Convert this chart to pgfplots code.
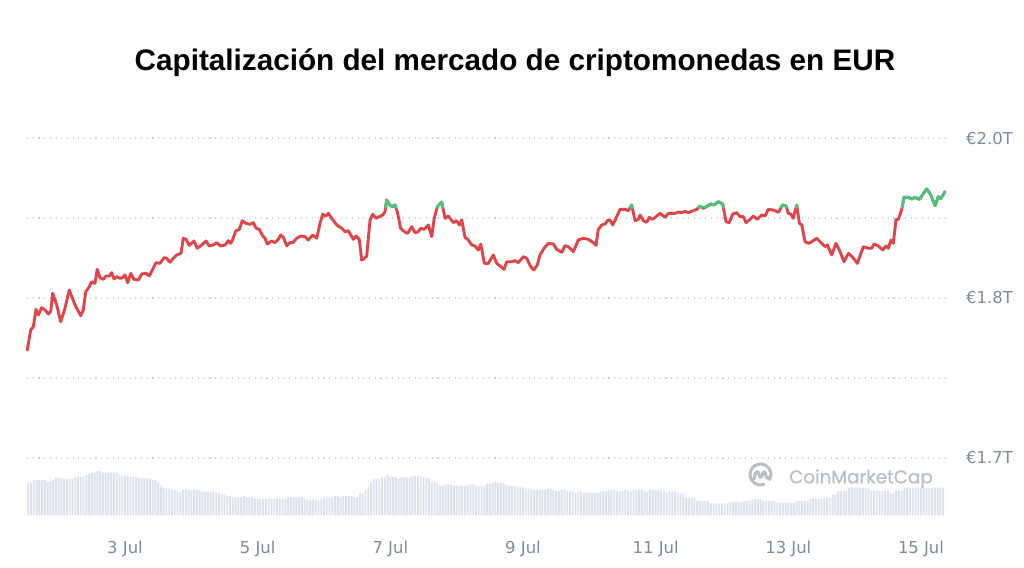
\documentclass[border=0pt]{standalone}
\usepackage{fontspec}
\usepackage{pgfplots}
\usepackage{pgfplotstable}
\pgfplotsset{compat=1.18}
\setmainfont{Liberation Sans}
\newfontfamily\dejavu{DejaVu Sans}
\newfontfamily\popp[FakeBold=0.7]{Poppins}
\definecolor{cmcred}{RGB}{222,68,72}
\definecolor{cmcgreen}{RGB}{76,196,126}
\definecolor{volbar}{RGB}{222,226,238}
\definecolor{lblgray}{RGB}{128,138,157}
\definecolor{gridgray}{RGB}{208,212,220}
\definecolor{wmgray}{RGB}{184,189,198}

% hourly volume (relative units), starting 1 Jul 13:00
\pgfplotstableread[row sep=\\]{
v\\
32.6\\32.6\\35.3\\35.3\\35.3\\35.3\\35.3\\33.6\\33.6\\35.3\\
37.6\\37.6\\36.6\\36.6\\36.6\\36.6\\36.6\\38.3\\38.3\\38.3\\
38.3\\40.3\\41.5\\42.6\\42.6\\44.3\\44.3\\42.6\\42.6\\42.6\\
42.6\\42.6\\42.6\\40.3\\39.3\\39.3\\39.3\\38.3\\38.3\\38.3\\
37\\37\\37\\37\\37\\35.3\\35.3\\32.6\\30\\27.6\\
26.6\\26.6\\25.3\\25.3\\23.6\\23.6\\25.3\\25.3\\25.3\\25.3\\
25.3\\25.3\\25.3\\23.6\\23.6\\23.6\\23.6\\23.6\\22.3\\22.3\\
21\\21\\19.3\\19.3\\18\\18\\18\\18\\19.3\\18\\
18\\18\\16.6\\16.6\\16.6\\16.6\\16.6\\16.6\\16.6\\16.6\\
16.6\\16.6\\16.6\\16.6\\18\\18\\18\\18\\18\\18\\
16.6\\15.3\\15.3\\15.3\\15.3\\14.3\\16.6\\18\\18\\18\\
18\\19.3\\19.3\\18\\19.3\\19.3\\19.3\\19.3\\18\\18\\
22\\22\\25.3\\28.3\\32\\36.6\\36.6\\36.6\\38\\38\\
40.6\\38.3\\38.3\\38.3\\36.6\\38\\38\\38\\38\\39.3\\
39.3\\39.3\\39.3\\38\\38\\36.6\\34\\34\\32\\29.3\\
29.3\\30.6\\30.6\\30.6\\29.3\\29.3\\29.3\\29.3\\29.3\\30.6\\
30.6\\30.6\\29.3\\29.3\\29.3\\29.3\\32\\32\\32\\33.6\\
32.3\\32.3\\32.3\\30.6\\29.3\\29.3\\29.3\\28\\28\\28\\
26.6\\26.6\\26.6\\25.3\\25.3\\25.3\\25.3\\25.3\\26.6\\26.6\\
25.3\\24\\24\\25.3\\25.3\\24\\24\\24\\22.6\\24\\
24\\22.6\\22.6\\22.6\\22.6\\22.6\\22.6\\24\\24\\24\\
25.3\\25.3\\25.3\\24\\24\\24\\25.3\\24\\24\\25.3\\
25.3\\25.3\\25.3\\24\\24\\25.3\\25.3\\25.3\\25.3\\25.3\\
24\\22.6\\24\\24\\24\\22\\22\\22\\17.6\\17.6\\
17.6\\17.6\\14.3\\14.3\\14.3\\14.3\\14.3\\12\\12\\12\\
12\\12\\12\\12\\13.3\\13.3\\13.3\\13.3\\13.3\\14.3\\
14.3\\14.3\\16\\16\\16\\16\\14.3\\14.3\\14.3\\14.3\\
14.3\\12.6\\12.6\\12.6\\12.6\\12.6\\12.6\\12.6\\14.3\\14.3\\
14.3\\14.3\\14.3\\16.6\\16.6\\16.6\\16.6\\16.6\\17.6\\17.6\\
17.6\\21\\21\\24.3\\24.3\\24.3\\24.3\\27.6\\27.6\\27.6\\
27.6\\27.6\\27.6\\27.6\\27.6\\24.3\\24.3\\24.3\\24.3\\24.3\\
24.3\\24.3\\22\\22\\24.3\\24.3\\24.3\\27.6\\27.6\\27.6\\
27.6\\27.6\\27.6\\27.6\\27.6\\27.6\\27.6\\27.6\\27.6\\27.6\\
27.6\\27.6\\
}\voldata

\begin{document}
\begin{tikzpicture}
\path[use as bounding box] (0bp,0bp) rectangle (1024bp,568bp);
\node[font=\bfseries\fontsize{29.8}{32}\selectfont, anchor=base, inner sep=0pt] at (515bp,497bp) {Capitalización del mercado de criptomonedas en EUR};

\begin{axis}[at={(27bp,52.7bp)}, anchor=south west, scale only axis,
  width=918bp, height=390.6bp, xmin=1.5226, xmax=15.362, ymin=0, ymax=390.6,
  hide axis]
\addplot[ybar, bar width=0.0286, draw=none, fill=volbar]
  table[x expr=1.541667+\coordindex/24, y=v] {\voldata};
\end{axis}

% watermark
\begin{scope}[shift={(760.5bp,93.5bp)}, x=1bp, y=1bp, wmgray, line width=3bp, line cap=round, line join=round]
\draw (-30:10.5) arc[start angle=-30, end angle=290, radius=10.5];
\draw (-6.5,-4.5) .. controls (-5.5,2) and (-3.5,4.5) .. (-2.2,2) -- (-0.5,-2.5) .. controls (0.5,-4) and (2,-1) .. (2.6,1.5) .. controls (3.3,4.5) and (5.5,2) .. (5.5,-1.5) .. controls (5.7,-4.5) and (8,-4) .. (9.2,-2.8);
\end{scope}
\node[anchor=base west, font=\popp\fontsize{18.4}{20}\selectfont, text=wmgray, inner sep=0pt] at (789bp,84.7bp) {CoinMarketCap};

\begin{axis}[at={(27bp,52.7bp)}, anchor=south west, scale only axis,
  width=918bp, height=390.6bp, xmin=1.5226, xmax=15.362, ymin=1.677, ymax=1.97,
  axis line style={draw=none}, major tick length=0pt,
  xtick={3,5,7,9,11,13,15},
  xticklabels={3 Jul,5 Jul,7 Jul,9 Jul,11 Jul,13 Jul,15 Jul},
  ytick={1.72,1.78,1.84,1.90,1.96},
  yticklabels={€1.7T,,€1.8T,,€2.0T},
  ytick pos=right, yticklabel pos=right,
  ymajorgrids, xmajorgrids=false,
  grid style={gridgray, line width=1.1bp, dash pattern=on 1.1bp off 4.6bp},
  tick label style={font=\dejavu\fontsize{16.5}{18}\selectfont, text=lblgray},
  yticklabel style={anchor=west, inner sep=0pt, xshift=21bp},
  xticklabel style={anchor=base, inner sep=0pt, yshift=-38bp},
  clip=false]
\addplot[cmcred, line width=2.9bp, line join=round, line cap=round] coordinates {
(1.527,1.801) (1.578,1.816) (1.618,1.8185) (1.658,1.8315) (1.693,1.8273) (1.744,1.8327) (1.794,1.831) (1.844,1.828) (1.880,1.8297) (1.910,1.8435) (1.970,1.8348) (2.031,1.8222) (2.095,1.8323) (2.160,1.846) (2.246,1.8348) (2.332,1.8267) (2.371,1.831) (2.408,1.8447) (2.462,1.8485) (2.498,1.8522) (2.548,1.851) (2.582,1.8615) (2.623,1.8552) (2.673,1.854) (2.714,1.8565) (2.763,1.8565) (2.799,1.859) (2.834,1.8543) (2.875,1.856) (2.925,1.8548) (2.965,1.8552) (3.000,1.8573) (3.041,1.8515) (3.086,1.8585) (3.136,1.854) (3.201,1.8535) (3.252,1.858) (3.317,1.8585) (3.366,1.8565) (3.418,1.8615) (3.467,1.8665) (3.528,1.866) (3.588,1.8702) (3.629,1.8698) (3.678,1.8668) (3.728,1.8698) (3.779,1.8723) (3.844,1.8735) (3.879,1.8848) (3.920,1.884) (3.969,1.8795) (4.040,1.8828) (4.090,1.8773) (4.156,1.8798) (4.221,1.8828) (4.271,1.879) (4.331,1.8798) (4.382,1.8815) (4.443,1.879) (4.508,1.8798) (4.557,1.883) (4.594,1.881) (4.624,1.884) (4.673,1.8905) (4.723,1.8915) (4.768,1.898) (4.824,1.896) (4.885,1.8953) (4.934,1.8965) (4.975,1.8923) (5.025,1.8915) (5.076,1.8865) (5.111,1.8848) (5.145,1.8805) (5.212,1.8828) (5.261,1.8815) (5.311,1.884) (5.347,1.8873) (5.387,1.8855) (5.438,1.8792) (5.488,1.8815) (5.528,1.8815) (5.589,1.8848) (5.649,1.8865) (5.714,1.886) (5.763,1.8835) (5.830,1.8873) (5.890,1.8848) (5.940,1.896) (5.981,1.9028) (6.030,1.9015) (6.065,1.9035) (6.116,1.8998) (6.192,1.8948) (6.267,1.8923) (6.317,1.8897) (6.366,1.8905) (6.442,1.884) (6.483,1.8865) (6.532,1.884) (6.568,1.8685) (6.603,1.8693) (6.644,1.8715) (6.694,1.8985) (6.734,1.9028) (6.784,1.8998) (6.834,1.901) (6.885,1.9023) (6.920,1.9047) (6.945,1.9135) (6.995,1.9098) (7.030,1.9085) (7.071,1.9098) (7.105,1.9047) (7.156,1.8923) (7.211,1.8897) (7.262,1.8885) (7.322,1.8935) (7.372,1.889) (7.422,1.8897) (7.458,1.8923) (7.508,1.8915) (7.573,1.8948) (7.624,1.886) (7.659,1.899) (7.708,1.9085) (7.775,1.912) (7.824,1.8998) (7.874,1.9015) (7.949,1.8965) (8.001,1.898) (8.040,1.8948) (8.076,1.8985) (8.126,1.8855) (8.176,1.8835) (8.227,1.8798) (8.277,1.879) (8.326,1.876) (8.363,1.8805) (8.417,1.866) (8.477,1.866) (8.553,1.8723) (8.604,1.866) (8.654,1.864) (8.714,1.8615) (8.755,1.8672) (8.830,1.8672) (8.880,1.868) (8.929,1.8665) (9.005,1.871) (9.056,1.8698) (9.116,1.8635) (9.166,1.861) (9.216,1.8648) (9.257,1.8723) (9.317,1.8773) (9.382,1.881) (9.457,1.8805) (9.508,1.8765) (9.584,1.8743) (9.633,1.8792) (9.683,1.8785) (9.759,1.8747) (9.834,1.8835) (9.909,1.8848) (9.985,1.884) (10.060,1.8815) (10.101,1.8795) (10.135,1.8915) (10.187,1.8948) (10.236,1.8955) (10.271,1.898) (10.312,1.8985) (10.353,1.8948) (10.402,1.8998) (10.463,1.9065) (10.538,1.9065) (10.588,1.9055) (10.639,1.90975) (10.689,1.898) (10.739,1.899) (10.764,1.9023) (10.814,1.898) (10.865,1.8968) (10.904,1.9005) (10.955,1.899) (11.005,1.901) (11.066,1.9035) (11.141,1.9005) (11.191,1.9035) (11.292,1.9035) (11.342,1.9045) (11.393,1.904) (11.443,1.905) (11.492,1.904) (11.568,1.9055) (11.619,1.9065) (11.669,1.909) (11.719,1.9073) (11.779,1.909) (11.830,1.9105) (11.880,1.9098) (11.945,1.9122) (12.011,1.9105) (12.061,1.8972) (12.110,1.8965) (12.162,1.903) (12.222,1.904) (12.272,1.901) (12.322,1.901) (12.362,1.8965) (12.423,1.899) (12.472,1.9015) (12.533,1.899) (12.599,1.9023) (12.649,1.9015) (12.698,1.9065) (12.774,1.906) (12.849,1.9043) (12.915,1.9098) (12.965,1.909) (13.000,1.9035) (13.036,1.903) (13.075,1.8998) (13.127,1.90975) (13.166,1.896) (13.202,1.8948) (13.252,1.8822) (13.302,1.881) (13.353,1.8822) (13.428,1.8848) (13.503,1.881) (13.553,1.8785) (13.588,1.8798) (13.654,1.8723) (13.719,1.881) (13.769,1.876) (13.840,1.8672) (13.905,1.8735) (13.971,1.8705) (14.040,1.866) (14.131,1.8785) (14.206,1.8773) (14.257,1.8773) (14.292,1.8805) (14.357,1.879) (14.423,1.876) (14.473,1.879) (14.508,1.8773) (14.548,1.8835) (14.583,1.881) (14.624,1.899) (14.658,1.899) (14.710,1.9065) (14.744,1.9155) (14.809,1.9155) (14.860,1.9143) (14.910,1.9155) (14.975,1.914) (15.086,1.9218) (15.147,1.9173) (15.212,1.9092) (15.261,1.916) (15.298,1.9145) (15.362,1.9197)
};
\addplot[cmcgreen, line width=2.9bp, line join=round, line cap=round] coordinates {(6.929,1.908) (6.945,1.9135) (6.995,1.9098) (7.030,1.9085) (7.071,1.9098) (7.083,1.908)};
\addplot[cmcgreen, line width=2.9bp, line join=round, line cap=round] coordinates {(7.706,1.908) (7.708,1.9085) (7.775,1.912) (7.791,1.908)};
\addplot[cmcgreen, line width=2.9bp, line join=round, line cap=round] coordinates {(10.618,1.908) (10.639,1.90975) (10.646,1.908)};
\addplot[cmcgreen, line width=2.9bp, line join=round, line cap=round] coordinates {(11.649,1.908) (11.669,1.909) (11.698,1.908)};
\addplot[cmcgreen, line width=2.9bp, line join=round, line cap=round] coordinates {(11.744,1.908) (11.779,1.909) (11.830,1.9105) (11.880,1.9098) (11.945,1.9122) (12.011,1.9105) (12.020,1.908)};
\addplot[cmcgreen, line width=2.9bp, line join=round, line cap=round] coordinates {(12.893,1.908) (12.915,1.9098) (12.965,1.909) (12.971,1.908)};
\addplot[cmcgreen, line width=2.9bp, line join=round, line cap=round] coordinates {(13.118,1.908) (13.127,1.90975) (13.132,1.908)};
\addplot[cmcgreen, line width=2.9bp, line join=round, line cap=round] coordinates {(14.716,1.908) (14.744,1.9155) (14.809,1.9155) (14.860,1.9143) (14.910,1.9155) (14.975,1.914) (15.086,1.9218) (15.147,1.9173) (15.212,1.9092) (15.261,1.916) (15.298,1.9145) (15.362,1.9197)};
\end{axis}
\end{tikzpicture}
\end{document}
